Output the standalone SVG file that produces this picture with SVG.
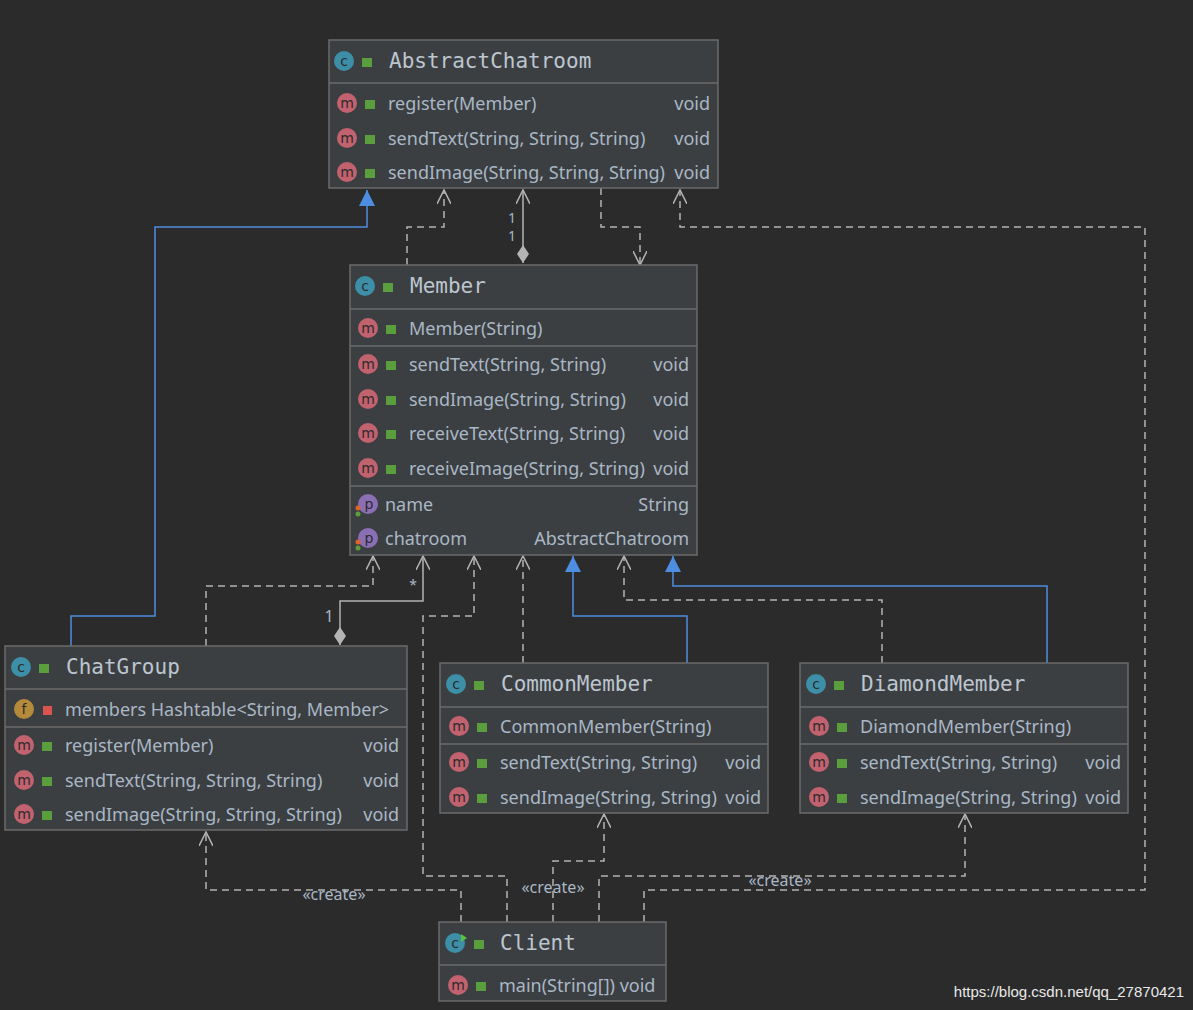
<svg xmlns="http://www.w3.org/2000/svg" width="1193" height="1010" viewBox="0 0 1193 1010">
<defs>
<style>
.box{fill:#3c3f41;stroke:#6b6b6b;stroke-width:1.5}
.sep{stroke:#6b6b6b;stroke-width:1.5}
.t{font-family:"DejaVu Sans Mono",monospace;font-size:21px;fill:#bcc6d0}
.r{font-family:"Noto Sans","Open Sans",sans-serif;font-size:18px;fill:#a9b7c6}
.e{text-anchor:end}
.ic{font-family:"DejaVu Sans",sans-serif;font-size:14px;fill:#2b2b2b;text-anchor:middle}
.c{fill:#3d8fa8}.m{fill:#c2626f}.p{fill:#8a6fb5}.f{fill:#b58a3a}
.lk{fill:#5b9e3e}
.d{fill:none;stroke:#b4b4b4;stroke-width:1.5;stroke-dasharray:7,5}
.s{fill:none;stroke:#b4b4b4;stroke-width:1.5}
.g{fill:none;stroke:#4d8ee0;stroke-width:1.5}
.lb{font-family:"Noto Sans",sans-serif;font-size:16px;fill:#a9b7c6;text-anchor:middle}
.n{font-family:"Noto Sans",sans-serif;font-size:14px;fill:#a9b7c6;text-anchor:middle}
</style>
<marker id="oa" markerWidth="16" markerHeight="14" refX="14" refY="7" orient="auto" markerUnits="userSpaceOnUse"><path d="M0,0 L14,7 L0,14" fill="none" stroke="#b4b4b4" stroke-width="1.5"/></marker>
<marker id="tri" markerWidth="18" markerHeight="18" refX="16" refY="8" orient="auto" markerUnits="userSpaceOnUse"><path d="M0,0 L16,8 L0,16 Z" fill="#4d8ee0"/></marker>
<marker id="dia" markerWidth="22" markerHeight="14" refX="1" refY="7" orient="auto" markerUnits="userSpaceOnUse"><path d="M1,7 L10,1 L19,7 L10,13 Z" fill="#b4b4b4"/></marker>
</defs>
<rect width="1193" height="1010" fill="#2b2b2b"/>

<g id="connectors">
<polyline class="g" points="71,646 71,616 155,616 155,227 367,227 367,190" marker-end="url(#tri)"/>
<polyline class="d" points="407,265 407,227 444,227 444,190" marker-end="url(#oa)"/>
<polyline class="s" points="523,263 523,190" marker-start="url(#dia)" marker-end="url(#oa)"/>
<text class="n" x="512" y="223">1</text><text class="n" x="512" y="241">1</text>
<polyline class="d" points="601,188 601,227 640,227 640,265" marker-end="url(#oa)"/>
<polyline class="d" points="644,922 644,890 1145,890 1145,227 680,227 680,190" marker-end="url(#oa)"/>
<polyline class="d" points="206,646 206,586 373,586 373,556" marker-end="url(#oa)"/>
<polyline class="s" points="340,645 340,601 423,601 423,556" marker-start="url(#dia)" marker-end="url(#oa)"/>
<text class="lb" x="329" y="622">1</text><text class="n" x="413" y="590">*</text>
<polyline class="d" points="507,922 507,876 423,876 423,616 474,616 474,556" marker-end="url(#oa)"/>
<polyline class="d" points="523,663 523,556" marker-end="url(#oa)"/>
<polyline class="g" points="687,663 687,616 573,616 573,556" marker-end="url(#tri)"/>
<polyline class="d" points="882,663 882,600 624,600 624,556" marker-end="url(#oa)"/>
<polyline class="g" points="1047,663 1047,586 673,586 673,556" marker-end="url(#tri)"/>
<polyline class="d" points="461,922 461,890 206,890 206,832" marker-end="url(#oa)"/>
<text class="lb" x="334" y="900">«create»</text>
<polyline class="d" points="553,922 553,861 604,861 604,814" marker-end="url(#oa)"/>
<text class="lb" x="553" y="893">«create»</text>
<polyline class="d" points="599,922 599,876 965,876 965,814" marker-end="url(#oa)"/>
<text class="lb" x="780" y="886">«create»</text>
</g>

<g id="AbstractChatroom">
<rect class="box" x="329" y="40" width="389" height="148"/>
<line class="sep" x1="329" y1="83" x2="718" y2="83"/>
<circle class="c" cx="344" cy="61" r="10"/><text class="ic" x="344" y="66">c</text><rect class="lk" x="362" y="58" width="10" height="9"/>
<text class="t" x="389" y="68">AbstractChatroom</text>
<circle class="m" cx="347" cy="103" r="10"/><text class="ic" x="347" y="108">m</text><rect class="lk" x="365" y="100" width="10" height="9"/>
<text class="r" x="388" y="110">register(Member)</text><text class="r e" x="710" y="110">void</text>
<circle class="m" cx="347" cy="138" r="10"/><text class="ic" x="347" y="143">m</text><rect class="lk" x="365" y="135" width="10" height="9"/>
<text class="r" x="388" y="145">sendText(String, String, String)</text><text class="r e" x="710" y="145">void</text>
<circle class="m" cx="347" cy="172" r="10"/><text class="ic" x="347" y="177">m</text><rect class="lk" x="365" y="169" width="10" height="9"/>
<text class="r" x="388" y="179">sendImage(String, String, String)</text><text class="r e" x="710" y="179">void</text>
</g>

<g id="Member">
<rect class="box" x="350" y="265" width="347" height="290"/>
<line class="sep" x1="350" y1="309" x2="697" y2="309"/>
<line class="sep" x1="350" y1="346" x2="697" y2="346"/>
<line class="sep" x1="350" y1="486" x2="697" y2="486"/>
<circle class="c" cx="365" cy="286" r="10"/><text class="ic" x="365" y="291">c</text><rect class="lk" x="383" y="283" width="10" height="9"/>
<text class="t" x="410" y="293">Member</text>
<circle class="m" cx="368" cy="328" r="10"/><text class="ic" x="368" y="333">m</text><rect class="lk" x="386" y="325" width="10" height="9"/>
<text class="r" x="409" y="335">Member(String)</text>
<circle class="m" cx="368" cy="364" r="10"/><text class="ic" x="368" y="369">m</text><rect class="lk" x="386" y="361" width="10" height="9"/>
<text class="r" x="409" y="371">sendText(String, String)</text><text class="r e" x="689" y="371">void</text>
<circle class="m" cx="368" cy="399" r="10"/><text class="ic" x="368" y="404">m</text><rect class="lk" x="386" y="396" width="10" height="9"/>
<text class="r" x="409" y="406">sendImage(String, String)</text><text class="r e" x="689" y="406">void</text>
<circle class="m" cx="368" cy="433" r="10"/><text class="ic" x="368" y="438">m</text><rect class="lk" x="386" y="430" width="10" height="9"/>
<text class="r" x="409" y="440">receiveText(String, String)</text><text class="r e" x="689" y="440">void</text>
<circle class="m" cx="368" cy="468" r="10"/><text class="ic" x="368" y="473">m</text><rect class="lk" x="386" y="465" width="10" height="9"/>
<text class="r" x="409" y="475">receiveImage(String, String)</text><text class="r e" x="689" y="475">void</text>
<circle class="p" cx="368" cy="504" r="10"/><text class="ic" x="369" y="509">p</text><circle cx="358" cy="508" r="2.5" fill="#e0632a"/><circle cx="358" cy="514" r="2.5" fill="#5b9e3e"/>
<text class="r" x="385" y="511">name</text><text class="r e" x="689" y="511">String</text>
<circle class="p" cx="368" cy="538" r="10"/><text class="ic" x="369" y="543">p</text><circle cx="358" cy="542" r="2.5" fill="#e0632a"/><circle cx="358" cy="548" r="2.5" fill="#5b9e3e"/>
<text class="r" x="385" y="545">chatroom</text><text class="r e" x="689" y="545">AbstractChatroom</text>
</g>

<g id="ChatGroup">
<rect class="box" x="5" y="646" width="402" height="184"/>
<line class="sep" x1="5" y1="689" x2="407" y2="689"/>
<line class="sep" x1="5" y1="727" x2="407" y2="727"/>
<circle class="c" cx="21" cy="667" r="10"/><text class="ic" x="21" y="672">c</text><rect class="lk" x="39" y="664" width="10" height="9"/>
<text class="t" x="66" y="674">ChatGroup</text>
<circle class="f" cx="24" cy="709" r="10"/><text class="ic" x="24" y="714">f</text><rect x="43" y="706" width="9" height="9" fill="#d9534f"/>
<text class="r" x="65" y="716">members Hashtable&lt;String, Member&gt;</text>
<circle class="m" cx="24" cy="745" r="10"/><text class="ic" x="24" y="750">m</text><rect class="lk" x="42" y="742" width="10" height="9"/>
<text class="r" x="65" y="752">register(Member)</text><text class="r e" x="399" y="752">void</text>
<circle class="m" cx="24" cy="780" r="10"/><text class="ic" x="24" y="785">m</text><rect class="lk" x="42" y="777" width="10" height="9"/>
<text class="r" x="65" y="787">sendText(String, String, String)</text><text class="r e" x="399" y="787">void</text>
<circle class="m" cx="24" cy="814" r="10"/><text class="ic" x="24" y="819">m</text><rect class="lk" x="42" y="811" width="10" height="9"/>
<text class="r" x="65" y="821">sendImage(String, String, String)</text><text class="r e" x="399" y="821">void</text>
</g>

<g id="CommonMember">
<rect class="box" x="440" y="663" width="328" height="150"/>
<line class="sep" x1="440" y1="707" x2="768" y2="707"/>
<line class="sep" x1="440" y1="744" x2="768" y2="744"/>
<circle class="c" cx="456" cy="684" r="10"/><text class="ic" x="456" y="689">c</text><rect class="lk" x="474" y="681" width="10" height="9"/>
<text class="t" x="501" y="691">CommonMember</text>
<circle class="m" cx="459" cy="726" r="10"/><text class="ic" x="459" y="731">m</text><rect class="lk" x="477" y="723" width="10" height="9"/>
<text class="r" x="500" y="733">CommonMember(String)</text>
<circle class="m" cx="459" cy="762" r="10"/><text class="ic" x="459" y="767">m</text><rect class="lk" x="477" y="759" width="10" height="9"/>
<text class="r" x="500" y="769">sendText(String, String)</text><text class="r e" x="761" y="769">void</text>
<circle class="m" cx="459" cy="797" r="10"/><text class="ic" x="459" y="802">m</text><rect class="lk" x="477" y="794" width="10" height="9"/>
<text class="r" x="500" y="804">sendImage(String, String)</text><text class="r e" x="761" y="804">void</text>
</g>

<g id="DiamondMember">
<rect class="box" x="800" y="663" width="328" height="150"/>
<line class="sep" x1="800" y1="707" x2="1128" y2="707"/>
<line class="sep" x1="800" y1="744" x2="1128" y2="744"/>
<circle class="c" cx="816" cy="684" r="10"/><text class="ic" x="816" y="689">c</text><rect class="lk" x="834" y="681" width="10" height="9"/>
<text class="t" x="861" y="691">DiamondMember</text>
<circle class="m" cx="819" cy="726" r="10"/><text class="ic" x="819" y="731">m</text><rect class="lk" x="837" y="723" width="10" height="9"/>
<text class="r" x="860" y="733">DiamondMember(String)</text>
<circle class="m" cx="819" cy="762" r="10"/><text class="ic" x="819" y="767">m</text><rect class="lk" x="837" y="759" width="10" height="9"/>
<text class="r" x="860" y="769">sendText(String, String)</text><text class="r e" x="1121" y="769">void</text>
<circle class="m" cx="819" cy="797" r="10"/><text class="ic" x="819" y="802">m</text><rect class="lk" x="837" y="794" width="10" height="9"/>
<text class="r" x="860" y="804">sendImage(String, String)</text><text class="r e" x="1121" y="804">void</text>
</g>

<g id="Client">
<rect class="box" x="439" y="922" width="227" height="79"/>
<line class="sep" x1="439" y1="965" x2="666" y2="965"/>
<circle class="c" cx="455" cy="943" r="10"/><text class="ic" x="455" y="948">c</text><path d="M461,934 L467,938 L461,942 Z" fill="#5bc23e"/><rect class="lk" x="474" y="940" width="10" height="9"/>
<text class="t" x="500" y="950">Client</text>
<circle class="m" cx="458" cy="985" r="10"/><text class="ic" x="458" y="990">m</text><rect class="lk" x="476" y="982" width="10" height="9"/>
<text class="r" x="499" y="992">main(String[]) void</text>
</g>

<text x="1184" y="997" font-family="Liberation Sans,Arial,sans-serif" font-size="15" fill="#e8e8e8" text-anchor="end">https://blog.csdn.net/qq_27870421</text>
</svg>
